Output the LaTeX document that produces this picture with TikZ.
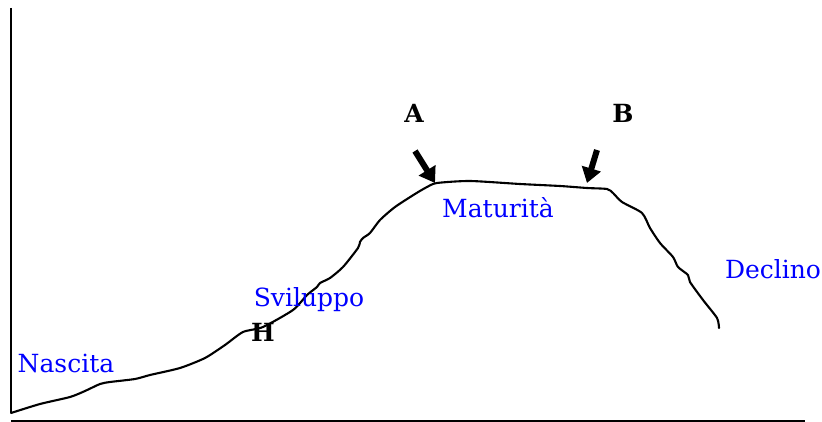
\documentclass[tikz,border=0pt]{standalone}
\usepackage{fontspec}
\setmainfont{DejaVu Serif}
\usetikzlibrary{arrows.meta}
\begin{document}
\begin{tikzpicture}[x=1pt,y=-1pt,
  phase/.style={text=blue, font=\fontsize{25}{28}\selectfont, inner sep=0pt},
  letter/.style={font=\bfseries\fontsize{25}{27}\selectfont, inner sep=0pt},
  bigarrow/.style={line width=6pt, -{Triangle[length=15pt,width=19pt]}},
  curve/.style={line width=2.1pt, line join=round, line cap=round}]
\useasboundingbox (0,0) rectangle (822,422);
% axes
\coordinate (ytop) at (11,8);
\coordinate (ybot) at (11,413);
\coordinate (xl) at (11,421);
\coordinate (xr) at (805,421);
\draw[line width=2.1pt] (ytop) -- (ybot);
\draw[line width=2.1pt] (xl) -- (xr);
% curve
\draw[curve] plot[smooth, tension=0.4] coordinates {
 (11,413) (40,404) (70,397) (85,391) (100,384) (110,382) (135,379) (150,375)
 (180,368) (205,358) (225,345) (243,332) (263,327) (293,310) (307,295)
 (317,287) (320,283) (330,278) (343,267) (358,248) (360,242) (363,238)
 (370,233) (380,220) (395,207) (415,194) (427,187) (437,183) (470,181)
 (520,184) (560,186) (587,188) (607,189) (613,193) (622,202) (642,213)
 (650,228) (660,243) (673,257) (678,267) (688,275) (690,282) (703,300)
 (717,318) (719,328)};
% arrow targets
\coordinate (ta) at (435,183);
\coordinate (tb) at (587,183);
\coordinate (sa) at (415,151);
\coordinate (sb) at (597,150);
\draw[bigarrow] (sa) -- (ta);
\draw[bigarrow] (sb) -- (tb);
% labels
\node[letter] (A) at (414,113) {A};
\node[letter] (B) at (623,113) {B};
\node[letter] (H) at (263,332) {H};
\node[phase] (mat) at (498,208) {Maturità};
\node[phase] (svi) at (309,300) {Sviluppo};
\node[phase] (nas) at (66,363) {Nascita};
\node[phase] (dec) at (773,269) {Declino};
\end{tikzpicture}
\end{document}
